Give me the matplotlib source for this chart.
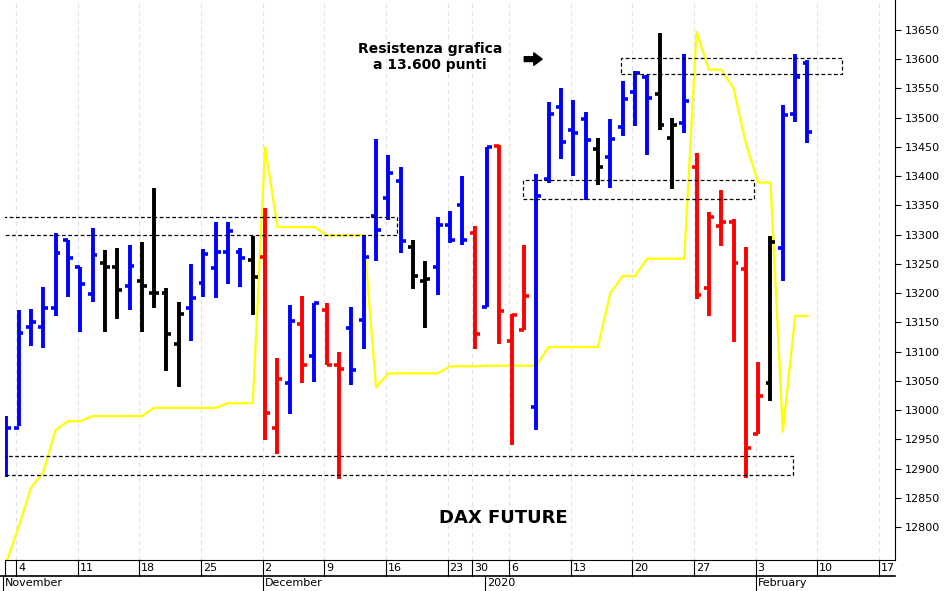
import matplotlib
matplotlib.use("Agg")
import matplotlib.pyplot as plt
import matplotlib.transforms as mtransforms
from matplotlib.patches import Rectangle

# OHLC bars (trading-day index 0 = 1 Nov 2019)
opens  = [12900,12970,13143,13143,13174,13291,13245,13198,13251,13244,13213,13220,13201,13201,13113,13174,13217,13243,13270,13271,13257,
          13262,12969,13046,13148,13092,13171,13077,13140,13154,13332,13362,13392,13279,13220,13245,13317,13351,13302,
          13177,13451,13118,13137,13005,13395,13518,13479,13498,13446,13432,13484,13543,13570,13541,13466,13490,
          13415,13208,13314,13322,13241,12960,13047,13278,13506,13594]
highs  = [12990,13171,13173,13211,13303,13291,13245,13312,13273,13278,13283,13288,13379,13208,13185,13249,13275,13321,13321,13277,13298,
          13345,13090,13179,13196,13184,13184,13100,13177,13299,13464,13436,13416,13291,13255,13331,13340,13401,13315,
          13449,13453,13164,13283,13404,13526,13551,13530,13509,13465,13497,13562,13580,13573,13644,13500,13608,
          13440,13339,13377,13327,13279,13083,13297,13521,13608,13599]
lows   = [12885,12973,13110,13106,13161,13194,13134,13185,13134,13155,13171,13134,13174,13067,13040,13118,13194,13191,13216,13211,13163,
          12949,12925,12994,13046,13048,13077,12883,13043,13104,13255,13325,13269,13207,13140,13197,13285,13282,13104,
          13176,13113,12940,13137,12966,13388,13429,13400,13359,13385,13379,13468,13485,13436,13479,13378,13474,
          13190,13161,13281,13116,12884,12960,13015,13221,13492,13456]
closes = [12970,13132,13150,13174,13268,13260,13215,13265,13244,13205,13246,13213,13201,13130,13164,13191,13267,13270,13306,13260,13228,
          12996,13054,13152,13078,13183,13077,13071,13069,13261,13308,13406,13289,13230,13225,13317,13291,13291,13131,
          13449,13169,13163,13195,13366,13506,13458,13473,13462,13416,13464,13532,13576,13533,13488,13488,13529,
          13197,13331,13322,13251,12935,13024,13288,13504,13569,13476]
colors = list("bbbbbbbbkkbkkkkbbbbbk" "rrbrbrrbbbbbkkbbbr" "brrrbbbbbkbbbbkkb" "rrrrrrkbbb")
yellow = [12740,12800,12867,12894,12966,12981,12981,12990,12990,12990,12990,12990,13004,13004,13004,13004,13004,13004,13012,13012,13012,
          13450,13313,13313,13313,13313,13299,13299,13299,13299,13039,13063,13063,13063,13063,13063,13075,13075,13075,
          13076,13076,13076,13076,13076,13108,13108,13108,13108,13108,13200,13229,13229,13259,13259,13259,13259,
          13647,13582,13582,13550,13456,13389,13389,12963,13161,13161]

day_pos = [1,6,11,16,21,26,31,36,38,41,46,51,56,61,66,71]
day_lab = ["4","11","18","25","2","9","16","23","30","6","13","20","27","3","10","17"]
month_pos = [-0.1,21,39,61]
month_lab = ["November","December","2020","February"]
yticks = list(range(12800,13651,50))

cmap = {"b":"#0000ff","r":"#ff0000","k":"#000000"}

fig = plt.figure(figsize=(9.47,5.91), dpi=100)
ax = fig.add_axes([5/947, 31/591, 890/947, 560/591])
ax.set_xlim(-0.1, 72.1)
ax.set_ylim(12744, 13701)

for p in day_pos:
    ax.axvline(p-0.2, color="#e0e0f4", lw=0.8, ls=(0,(4,3)), zorder=0)

ax.plot(range(len(yellow)), yellow, color="#ffff00", lw=1.6, zorder=1)

for i,(o,h,l,c,k) in enumerate(zip(opens,highs,lows,closes,colors)):
    col = cmap[k]
    ax.vlines(i, l, h, color=col, lw=2.8, zorder=3)
    ax.hlines(o, i-0.4, i, color=col, lw=2.6, zorder=3)
    ax.hlines(c, i, i+0.4, color=col, lw=2.6, zorder=3)

rects = [(-1,13299,32.7,31),(-1,12889,64.8,32),(41.9,13361,18.8,32),(49.9,13575,17.9,27)]
for x0,y0,w,h in rects:
    ax.add_patch(Rectangle((x0,y0),w,h,fill=False,ec="black",lw=0.9,ls=(0,(3,2)),zorder=4))

ax.text(34.4, 13603, "Resistenza grafica\na 13.600 punti", ha="center", va="center",
        fontsize=10, fontweight="bold", linespacing=1.2)
ax.annotate("", xy=(43.7,13600), xytext=(41.8,13600),
            arrowprops=dict(arrowstyle="simple,head_width=0.9,head_length=0.6,tail_width=0.35",color="black"))
ax.text(40.3, 12815, "DAX FUTURE", ha="center", va="center", fontsize=13, fontweight="bold")

ax.yaxis.tick_right()
ax.set_yticks(yticks)
ax.set_yticklabels([str(v) for v in yticks], fontsize=8)
ax.tick_params(axis="y", length=4, pad=3)
ax.set_xticks([])
for s in ["top","left"]:
    ax.spines[s].set_visible(False)

tr = mtransforms.blended_transform_factory(ax.transData, ax.transAxes)
row = -16/560
ax.plot([-0.6,72.1],[row,row], transform=tr, color="black", lw=1.2, clip_on=False)
for p,lab in zip(day_pos,day_lab):
    ax.plot([p-0.2,p-0.2],[0,row], transform=tr, color="black", lw=0.8, clip_on=False)
    ax.text(p-0.05, row/2, lab, transform=tr, ha="left", va="center", fontsize=8, clip_on=False)
ax.plot([-0.1,-0.1],[0,row], transform=tr, color="black", lw=0.8, clip_on=False)
for p,lab in zip(month_pos,month_lab):
    ax.plot([p-0.2,p-0.2],[row,-31/560], transform=tr, color="black", lw=0.8, clip_on=False)
    ax.text(p+0.0, row-7.5/560, lab, transform=tr, ha="left", va="center", fontsize=8, clip_on=False)

fig.savefig("out.png", dpi=100)
